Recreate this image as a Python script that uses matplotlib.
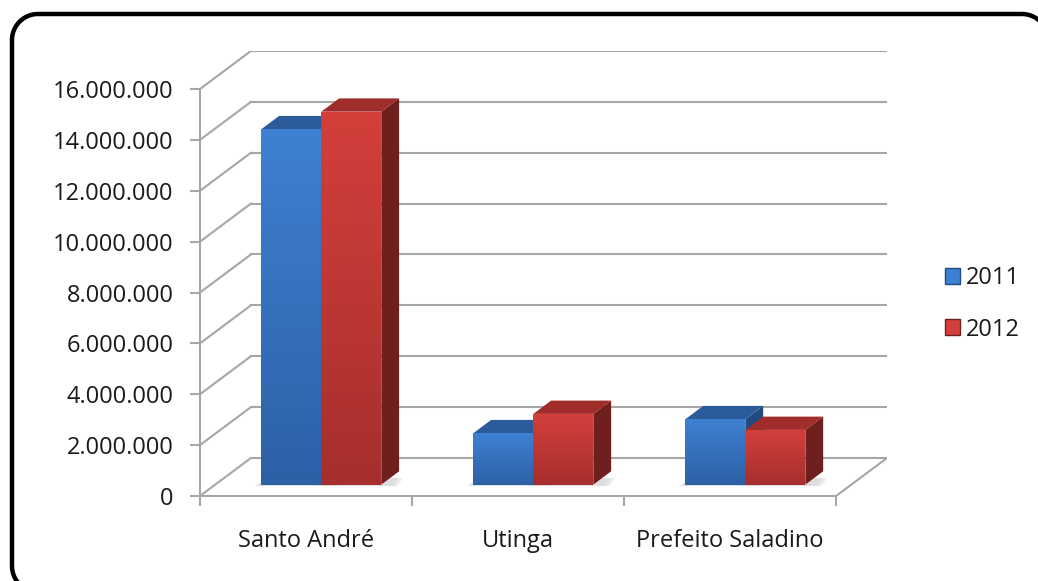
import matplotlib
matplotlib.use("Agg")
import numpy as np
import matplotlib.pyplot as plt
from matplotlib.patches import Polygon, Patch
from matplotlib.lines import Line2D
from matplotlib.colors import LinearSegmentedColormap
from matplotlib.ticker import FuncFormatter

categories = ["Santo André", "Utinga", "Prefeito Saladino"]
series_names = ["2011", "2012"]
values_2011 = [13970000, 2020000, 2570000]
values_2012 = [14660000, 2780000, 2150000]
y_ticks = list(range(0, 16000001, 2000000))

# colours: front top, front bottom, top face, side face
blue = ["#3e80d2", "#2d61a6", "#2b5b9b", "#23497f"]
red = ["#d33f3b", "#a62f2d", "#a12d2a", "#6f1f1d"]
grid_col = "#a6a6a6"
text_col = "#1a1a1a"

plt.rcParams["font.family"] = ["Open Sans", "DejaVu Sans"]

# oblique "3d" look: how far the back wall sits behind the front
depth_x = 0.24
depth_y = 1.494e6
bar_w = 0.283       # width of one bar in category units
bar_front = 0.30    # depth fraction where bars start
bar_depth = 0.35    # depth fraction the bars take

W, H = 1038, 581
fig = plt.figure(figsize=(W / 100, H / 100), dpi=100)
ax = fig.add_axes([200 / W, (H - 496) / H, 687 / W, 445 / H])
ax.patch.set_visible(False)

n = len(categories)
y_top = y_ticks[-1]

# back wall gridlines + diagonals on the side wall
for v in y_ticks:
    ax.plot([depth_x, n + depth_x], [v + depth_y, v + depth_y], color=grid_col, lw=1.5, zorder=1)
    ax.plot([0, depth_x], [v, v + depth_y], color=grid_col, lw=1.5, zorder=1)
# floor right edge
ax.plot([n, n + depth_x], [0, depth_y], color=grid_col, lw=1.5, zorder=1)


def gradient_face(x0, y0, w, h, c_top, c_bot):
    cmap = LinearSegmentedColormap.from_list("g", [c_bot, c_top])
    grad = np.linspace(0, 1, 64).reshape(-1, 1)
    im = ax.imshow(grad, cmap=cmap, origin="lower", aspect="auto",
                   extent=[x0, x0 + w, y0, y0 + h], zorder=3)
    clip = Polygon([[x0, y0], [x0 + w, y0], [x0 + w, y0 + h], [x0, y0 + h]],
                   closed=True, transform=ax.transData, facecolor="none", edgecolor="none")
    ax.add_patch(clip)
    im.set_clip_path(clip)


gx, gy = bar_depth * depth_x, bar_depth * depth_y
for i in range(n):
    for j, (vals, cols) in enumerate([(values_2011, blue), (values_2012, red)]):
        v = vals[i]
        x0 = i + 0.5 - bar_w + j * bar_w + bar_front * depth_x
        yb = bar_front * depth_y
        yt = yb + v
        # soft shadow on the floor
        for k in range(3):
            s = 0.012 * (3 - k)
            ax.add_patch(Polygon([[x0 - s, yb - 0.05e6], [x0 + bar_w + gx * 0.5 + s, yb - 0.05e6],
                                  [x0 + bar_w + gx * 0.8 + s, yb + gy * 0.5], [x0 + s, yb + gy * 0.5]],
                                 closed=True, facecolor="#c8c8c8", edgecolor="none", alpha=0.25, zorder=2))
        side = Polygon([[x0 + bar_w, yb], [x0 + bar_w, yt], [x0 + bar_w + gx, yt + gy],
                        [x0 + bar_w + gx, yb + gy]], closed=True, facecolor=cols[3],
                       edgecolor="none", zorder=3)
        top = Polygon([[x0, yt], [x0 + bar_w, yt], [x0 + bar_w + gx, yt + gy], [x0 + gx, yt + gy]],
                      closed=True, facecolor=cols[2], edgecolor="none", zorder=3)
        ax.add_patch(side)
        ax.add_patch(top)
        gradient_face(x0, yb, bar_w, v, cols[0], cols[1])

ax.set_xlim(0, n + depth_x)
ax.set_ylim(0, y_top + depth_y)

for s in ["top", "right"]:
    ax.spines[s].set_visible(False)
ax.spines["left"].set_bounds(0, y_top)
ax.spines["bottom"].set_bounds(0, n)
for s in ["left", "bottom"]:
    ax.spines[s].set_color(grid_col)
    ax.spines[s].set_linewidth(1.5)

ax.set_yticks(y_ticks)
ax.yaxis.set_major_formatter(FuncFormatter(lambda v, p: f"{int(v):,}".replace(",", ".")))
ax.tick_params(axis="y", length=7, width=1.5, color=grid_col, pad=12, labelsize=17, labelcolor=text_col)

ax.set_xticks(range(n + 1))
ax.set_xticklabels([])
ax.set_xticks([i + 0.5 for i in range(n)], minor=True)
ax.set_xticklabels(categories, minor=True)
ax.tick_params(axis="x", which="major", length=7, width=1.5, color=grid_col)
ax.tick_params(axis="x", which="minor", length=0, pad=24, labelsize=17, labelcolor=text_col)

handles = [Patch(facecolor=blue[0], edgecolor=blue[3], label=series_names[0]),
           Patch(facecolor=red[0], edgecolor=red[3], label=series_names[1])]
fig.legend(handles=handles, loc="center left", bbox_to_anchor=(933 / W, 1 - 304 / H),
           frameon=False, fontsize=17, handlelength=0.65, handleheight=0.65,
           handletextpad=0.25, labelspacing=1.15, borderpad=0, labelcolor=text_col)

# rounded frame around the chart, figure pixels measured from the top-left;
# its right and bottom sides fall outside the picture
left, top, right, bottom, r = 12, 14, 1048, 592, 26
t = np.linspace(0, np.pi / 2, 20)
fx = np.concatenate([left + r - r * np.sin(t),             # bottom-left corner
                     left + r - r * np.cos(t),             # top-left corner
                     right - r + r * np.sin(t),            # top-right corner
                     right - r + r * np.cos(t)])           # bottom-right corner
fy = np.concatenate([bottom - r + r * np.cos(t),
                     top + r - r * np.sin(t),
                     top + r - r * np.cos(t),
                     bottom - r + r * np.sin(t)])
fx = np.append(fx, fx[0])
fy = np.append(fy, fy[0])
fig.add_artist(Line2D(fx / W, 1 - fy / H, transform=fig.transFigure, color="black",
                      lw=3.2, solid_joinstyle="round"))

fig.savefig("out.png", dpi=100)
